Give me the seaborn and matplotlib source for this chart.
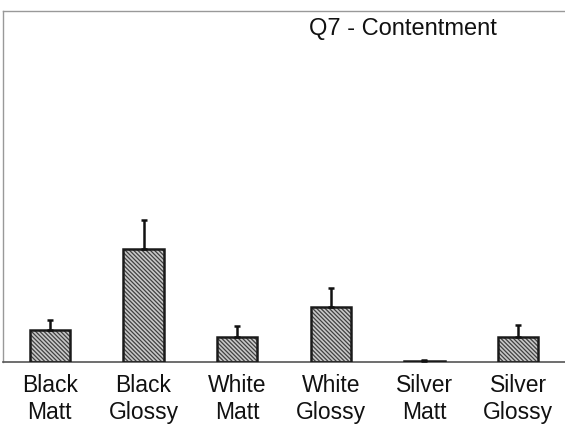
import numpy as np
import pandas as pd
import matplotlib
matplotlib.use("Agg")
import matplotlib.pyplot as plt
from matplotlib.patches import Rectangle
import seaborn as sns

# data
categories = ["Black\nMatt", "Black\nGlossy", "White\nMatt", "White\nGlossy", "Silver\nMatt", "Silver\nGlossy"]
means = [0.27, 0.97, 0.21, 0.47, 0.005, 0.21]
errors = [0.09, 0.24, 0.10, 0.16, 0.01, 0.11]
y_ticks = [0, 1, 2, 3]

sns.set_theme(style="white")
plt.rcParams["font.family"] = ["Liberation Sans", "DejaVu Sans"]
plt.rcParams["hatch.linewidth"] = 0.9

df = pd.DataFrame({"cat": categories, "val": means})

fig = plt.figure(figsize=(5.65, 4.28), dpi=100)
ax = fig.add_axes([3 / 565, 1 - 362 / 428, 1 - 3 / 565, (362 - 11) / 428])

sns.barplot(data=df, x="cat", y="val", color="#c8c8c8", width=0.43,
            edgecolor="#404040", linewidth=0, errorbar=None, ax=ax)
# hatch takes the edge colour, so draw the dark outline on top separately
for p in list(ax.patches):
    p.set_hatch("\\" * 8)
    ax.add_patch(Rectangle(p.get_xy(), p.get_width(), p.get_height(),
                           facecolor="none", edgecolor="#1a1a1a", linewidth=1.8, zorder=3))

x = np.arange(len(categories))
ax.errorbar(x, means, yerr=[np.zeros(len(errors)), errors], fmt="none",
            ecolor="#111111", elinewidth=1.8, capsize=2.5, capthick=1.8, zorder=4)

ax.set_ylim(0, 3)
ax.set_xlim(-0.5, len(categories) - 0.5)
ax.set_yticks(y_ticks)
ax.set_yticklabels([])
ax.set_xlabel("")
ax.set_ylabel("")
ax.set_xticks(x)
ax.set_xticklabels(categories, fontsize=16.5, color="#111111", linespacing=1.2)
ax.tick_params(axis="x", length=0, pad=9)
ax.set_xticks(np.arange(0.5, len(categories) - 0.5, 1), minor=True)
ax.tick_params(axis="x", which="minor", length=5, color="#888888", direction="out")
ax.tick_params(axis="y", length=3, color="#999999", direction="in")

for side in ["left", "top"]:
    ax.spines[side].set_color("#999999")
    ax.spines[side].set_linewidth(1.0)
ax.spines["right"].set_visible(False)
ax.spines["bottom"].set_color("#555555")
ax.spines["bottom"].set_linewidth(1.2)

ax.text(0.712, 0.95, "Q7 - Contentment", transform=ax.transAxes, fontsize=17,
        ha="center", va="center", color="#111111")

fig.savefig("out.png", dpi=100)
